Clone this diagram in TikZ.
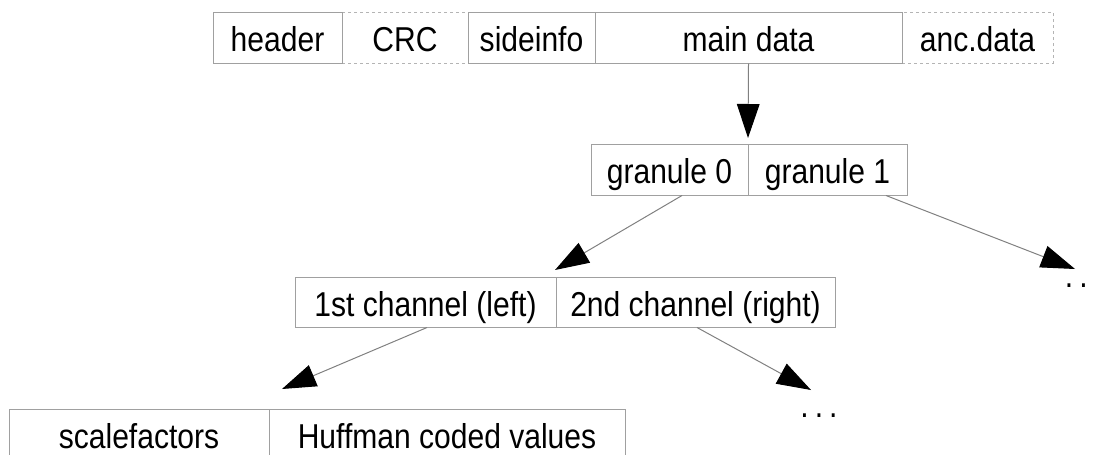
\documentclass[tikz,border=0pt]{standalone}
\usepackage{fontspec}
\setmainfont{Liberation Sans}
\newfontfamily\diafont{Liberation Sans}[FakeStretch=0.87]
\usetikzlibrary{arrows.meta,calc}
\definecolor{boxgray}{RGB}{160,160,160}
\definecolor{dashgray}{RGB}{180,180,180}
\definecolor{linegray}{RGB}{128,128,128}
\begin{document}
\begin{tikzpicture}[x=0.75pt,y=-0.75pt,
  cell/.style={draw=boxgray, line width=0.75pt, inner sep=0pt,
    minimum height=38.25pt, text height=24.5pt, text depth=3pt,
    font=\diafont\fontsize{25.9pt}{30pt}\selectfont, text=black},
  dcell/.style={cell, draw=dashgray, dash pattern=on 2.25pt off 2.25pt},
  arr/.style={draw=linegray, line width=0.75pt,
    -{Triangle[length=25.5pt,width=17pt,color=black]}},
  dotsnode/.style={inner sep=0pt, anchor=base west,
    font=\diafont\fontsize{25.9pt}{30pt}\selectfont}
]
\useasboundingbox (0,0) rectangle (1094,454);
\clip (0,0) rectangle (1094,454);
% top row (dashed cells first)
\node[dcell, minimum width=94.5pt]  (crc)  at (405,37.5)   {CRC};
\node[dcell, minimum width=113.25pt] (anc) at (977.5,37.5) {anc.data};
\node[cell, minimum width=96.75pt]  (hdr)  at (277.5,37.5) {header};
\node[cell, minimum width=95.25pt]  (side) at (531.5,37.5) {sideinfo};
\node[cell, minimum width=230.25pt] (main) at (748.5,37.5) {main data};
% granules
\node[cell, minimum width=117.75pt] (g0) at (669.5,169.5) {granule 0};
\node[cell, minimum width=119.25pt] (g1) at (827.5,169.5) {granule 1};
% channels
\node[cell, minimum width=195.75pt, minimum height=37.5pt] (c1) at (425.5,302) {1st channel (left)};
\node[cell, minimum width=209.25pt, minimum height=37.5pt] (c2) at (695.5,302) {2nd channel (right)};
% bottom row
\node[cell, minimum width=195pt] (sf) at (139,434.5) {scalefactors};
\node[cell, minimum width=267pt] (hc) at (447,434.5) {Huffman coded values};
% ellipses
\node[dotsnode] (d1) at (1064.5,287) {.\hspace{4.6pt}.};
\node[dotsnode] (d2) at (800,417) {.\hspace{4.6pt}.\hspace{4.6pt}.};
% arrow tips
\coordinate (t1) at (748,138);
\coordinate (t2) at (555,270);
\coordinate (t3) at (1075,269);
\coordinate (t4) at (282,389);
\coordinate (t5) at (811,390);
% connectors
\draw[arr] (main.south) -- (t1);
\draw[arr] ($(g0.south)+(12.5,0)$) -- (t2);
\draw[arr] ($(g1.south)+(58.5,0)$) -- (t3);
\draw[arr] ($(c1.south)+(1.5,0)$) -- (t4);
\draw[arr] ($(c2.south)+(1.5,0)$) -- (t5);
\end{tikzpicture}
\end{document}
